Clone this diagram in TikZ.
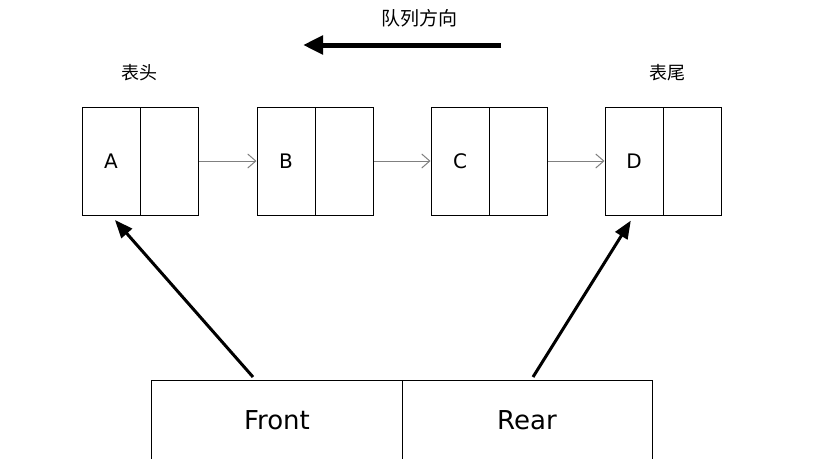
\documentclass[tikz,border=0pt]{standalone}
\usepackage{fontspec}
\setmainfont{DejaVu Sans}
\newfontfamily\cjk{Noto Sans CJK SC}
\usetikzlibrary{arrows.meta}
\tikzset{
  cell/.style={draw,line width=1pt,minimum width=58pt,minimum height=108pt,inner sep=0pt,font=\fontsize{20}{24}\selectfont},
  link/.style={draw=gray,line width=1pt,-{Straight Barb[length=8pt,width=14pt]}},
  pointer/.style={line width=3pt,-{Triangle[length=18pt,width=14pt]},shorten >=6pt}
}
\begin{document}
\begin{tikzpicture}[x=1pt,y=1pt,yscale=-1,xscale=1]
\useasboundingbox (0,0) rectangle (816,458);
%list cells
\node[cell] (a1) at (111,161) {A};
\node[cell,anchor=west,xshift=-0.5pt] (a2) at (a1.east) {};
\node[cell] (b1) at (286,161) {B};
\node[cell,anchor=west,xshift=-0.5pt] (b2) at (b1.east) {};
\node[cell] (c1) at (460,161) {C};
\node[cell,anchor=west,xshift=-0.5pt] (c2) at (c1.east) {};
\node[cell] (d1) at (634,161) {D};
\node[cell,anchor=west,xshift=-0.5pt] (d2) at (d1.east) {};
\draw[link] (a2.east) -- (b1.west);
\draw[link] (b2.east) -- (c1.west);
\draw[link] (c2.east) -- (d1.west);

%labels
\node[font=\cjk\fontsize{18}{21}\selectfont] (head) at (139,73) {表头};
\node[font=\cjk\fontsize{18}{21}\selectfont] (tail) at (667,73) {表尾};
\node[font=\cjk\fontsize{19}{22}\selectfont] (dir) at (419,18) {队列方向};
\coordinate (dirs) at (501,45);
\coordinate (dire) at (303,45);
\draw[line width=5pt,-{Triangle[length=20pt,width=18pt]}] (dirs) -- (dire);

%queue record
\draw[line width=1pt] (151,470) -- (151,380) -- (652,380) -- (652,470);
\draw[line width=1pt] (402,380) -- (402,470);
\node[font=\fontsize{26}{31}\selectfont] (front) at (277,420) {Front};
\node[font=\fontsize{26}{31}\selectfont] (rear) at (527,420) {Rear};
\coordinate (fs) at (253,377);
\coordinate (rs) at (533,377);
\draw[pointer] (fs) -- (a1.south);
\draw[pointer] (rs) -- (d1.south);
\end{tikzpicture}
\end{document}
